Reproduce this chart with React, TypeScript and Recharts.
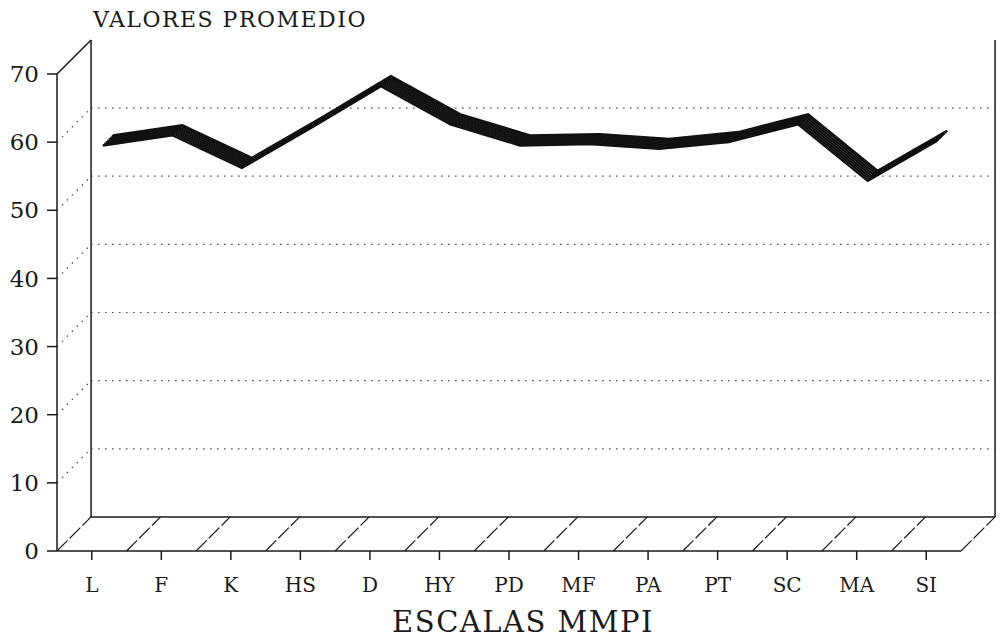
import { LineChart, Line, XAxis, YAxis, ReferenceLine } from "recharts";

// MMPI scales and their mean T values
const scales = ["L", "F", "K", "HS", "D", "HY", "PD", "MF", "PA", "PT", "SC", "MA", "SI"];
const promedio = [57.9, 59.4, 54.6, 60.5, 66.6, 61.0, 57.9, 58.1, 57.4, 58.4, 61.0, 52.7, 58.6];
const yTicks = [0, 10, 20, 30, 40, 50, 60, 70];
const gridValues = [10, 20, 30, 40, 50, 60];

const data = scales.map((s, i) => ({ scale: s, valor: promedio[i] }));

// layout
const W = 1001;
const H = 639;
const LEFT = 57;
const RIGHT_MARGIN = 40;
const PLOT_W = W - LEFT - RIGHT_MARGIN;
const HALF_BAND = PLOT_W / scales.length / 2;
const nScales = scales.length;
// frame axis: 0 = first scale, band edges at i - 0.5
const FIRST_EDGE = -0.5;
const LAST_EDGE = nScales - 0.5;
// depth of the 3d box, in axis units (about 34px both ways)
const DEPTH_X = 0.49;
const DEPTH_Y = 5;
// ribbon sits between these pixel depths
const ribbonDepths = [11, 12.5, 14, 15.5, 17, 18.5, 20, 21];

const FONT = "'DejaVu Serif', serif";
const INK = "#1a1a1a";

const dotted = { stroke: "#444", strokeWidth: 1.2, strokeDasharray: "1.5 5.5" };
const solid = { stroke: INK, strokeWidth: 1.5 };

const frameProps = { xAxisId: "z_frame", yAxisId: "a_front", ifOverflow: "visible" as const };

const App = () => {
  return (
    <div style={{ position: "absolute", left: 0, top: 0, width: W, height: H, background: "#fff" }}>
      <LineChart
        width={W}
        height={H}
        data={data}
        margin={{ top: 74, right: RIGHT_MARGIN, bottom: 28, left: 0 }}
      >
        <XAxis
          dataKey="scale"
          xAxisId="a_front"
          interval={0}
          padding={{ left: HALF_BAND, right: HALF_BAND }}
          height={60}
          tickSize={9}
          tickMargin={18}
          axisLine={{ stroke: INK, strokeWidth: 1.5 }}
          tickLine={{ stroke: INK, strokeWidth: 1.5 }}
          tick={{ fill: INK, fontSize: 20, fontFamily: FONT }}
        />
        <XAxis
          xAxisId="z_frame"
          type="number"
          domain={[0, nScales - 1]}
          allowDataOverflow
          padding={{ left: HALF_BAND, right: HALF_BAND }}
          height={0}
          hide
        />
        <YAxis
          yAxisId="a_front"
          dataKey="valor"
          domain={[0, 70]}
          allowDataOverflow
          ticks={yTicks}
          width={LEFT}
          tickSize={10}
          tickMargin={8}
          axisLine={{ stroke: INK, strokeWidth: 1.5 }}
          tickLine={{ stroke: INK, strokeWidth: 1.5 }}
          tick={{ fill: INK, fontSize: 23, fontFamily: FONT }}
        />
        {ribbonDepths.map((d) => (
          <XAxis
            key={"x" + d}
            xAxisId={"x" + d}
            dataKey="scale"
            hide
            height={0}
            padding={{ left: HALF_BAND + d, right: HALF_BAND - d }}
          />
        ))}
        {ribbonDepths.map((d) => (
          <YAxis
            key={"y" + d}
            yAxisId={"y" + d}
            domain={[0, 70]}
            allowDataOverflow
            hide
            width={0}
            padding={{ top: -d, bottom: d }}
          />
        ))}

        {/* back wall */}
        <ReferenceLine
          {...frameProps}
          segment={[{ x: FIRST_EDGE + DEPTH_X, y: DEPTH_Y }, { x: FIRST_EDGE + DEPTH_X, y: 70 + DEPTH_Y }]}
          {...solid}
        />
        <ReferenceLine
          {...frameProps}
          segment={[{ x: LAST_EDGE + DEPTH_X, y: DEPTH_Y }, { x: LAST_EDGE + DEPTH_X, y: 70 + DEPTH_Y }]}
          {...solid}
        />
        <ReferenceLine
          {...frameProps}
          segment={[{ x: FIRST_EDGE, y: 70 }, { x: FIRST_EDGE + DEPTH_X, y: 70 + DEPTH_Y }]}
          {...solid}
        />
        <ReferenceLine
          {...frameProps}
          segment={[{ x: FIRST_EDGE + DEPTH_X, y: DEPTH_Y }, { x: LAST_EDGE + DEPTH_X, y: DEPTH_Y }]}
          {...solid}
        />
        {/* floor diagonals */}
        {Array.from({ length: nScales + 1 }, (_, i) => (
          <ReferenceLine
            key={"f" + i}
            {...frameProps}
            segment={[{ x: FIRST_EDGE + i, y: 0 }, { x: FIRST_EDGE + i + DEPTH_X, y: DEPTH_Y }]}
            stroke={INK}
            strokeWidth={1.2}
            strokeDasharray="15 3"
          />
        ))}
        {/* side wall + back wall dotted grid */}
        {gridValues.map((v) => (
          <ReferenceLine
            key={"s" + v}
            {...frameProps}
            segment={[{ x: FIRST_EDGE, y: v }, { x: FIRST_EDGE + DEPTH_X, y: v + DEPTH_Y }]}
            {...dotted}
          />
        ))}
        {gridValues.map((v) => (
          <ReferenceLine
            key={"g" + v}
            {...frameProps}
            segment={[{ x: FIRST_EDGE + DEPTH_X, y: v + DEPTH_Y }, { x: LAST_EDGE + DEPTH_X, y: v + DEPTH_Y }]}
            {...dotted}
          />
        ))}

        {/* ribbon drawn as stacked offset lines */}
        {ribbonDepths.map((d) => (
          <Line
            key={"l" + d}
            xAxisId={"x" + d}
            yAxisId={"y" + d}
            type="linear"
            dataKey="valor"
            stroke="#111"
            strokeWidth={2.4}
            strokeMiterlimit={2}
            dot={false}
            activeDot={false}
            isAnimationActive={false}
          />
        ))}
      </LineChart>
      <svg
        width={W}
        height={H}
        style={{ position: "absolute", left: 0, top: 0, pointerEvents: "none" }}
      >
        <text x={93} y={27} fontFamily={FONT} fontSize={22} letterSpacing={1.5} fill={INK}>
          VALORES PROMEDIO
        </text>
        <text
          x={523}
          y={632}
          textAnchor="middle"
          fontFamily={FONT}
          fontSize={29}
          letterSpacing={1.5}
          fill={INK}
        >
          ESCALAS MMPI
        </text>
      </svg>
    </div>
  );
};

export default App;
